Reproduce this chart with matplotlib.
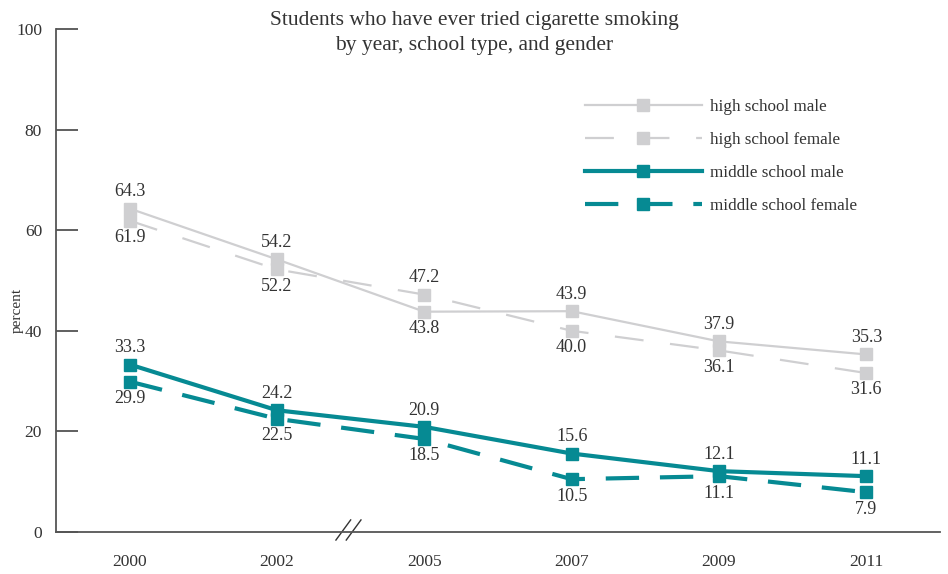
import numpy as np
import matplotlib.pyplot as plt

years = ["2000", "2002", "2005", "2007", "2009", "2011"]
hs_male = [64.3, 54.2, 43.8, 43.9, 37.9, 35.3]
hs_female = [61.9, 52.2, 47.2, 40.0, 36.1, 31.6]
ms_male = [33.3, 24.2, 20.9, 15.6, 12.1, 11.1]
ms_female = [29.9, 22.5, 18.5, 10.5, 11.1, 7.9]

GRAY = "#cfcfd1"
TEAL = "#068a93"
TXT = "#333333"

plt.rcParams["font.family"] = ["Liberation Serif", "DejaVu Serif"]

fig = plt.figure(figsize=(9.48, 5.74), dpi=100)
ax = fig.add_axes([56/948, 1 - 532/574, (940 - 56)/948, (532 - 29)/574])

x = np.arange(len(years))

ax.plot(x, hs_male, color=GRAY, lw=1.6, marker="s", ms=9, label="high school male")
ax.plot(x, hs_female, color=GRAY, lw=1.6, marker="s", ms=9, dashes=(13, 12),
        label="high school female")
ax.plot(x, ms_male, color=TEAL, lw=3, marker="s", ms=9, label="middle school male")
ax.plot(x, ms_female, color=TEAL, lw=3, marker="s", ms=9, dashes=(8, 5),
        label="middle school female")

# value labels: higher value above, lower below
for a, b in [(hs_male, hs_female), (ms_male, ms_female)]:
    for i in range(len(years)):
        hi, lo = max(a[i], b[i]), min(a[i], b[i])
        ax.annotate(f"{hi:.1f}", (x[i], hi), xytext=(0, 6), textcoords="offset points",
                    ha="center", va="bottom", fontsize=13, color=TXT)
        ax.annotate(f"{lo:.1f}", (x[i], lo), xytext=(0, -6), textcoords="offset points",
                    ha="center", va="top", fontsize=13, color=TXT)

ax.set_xlim(-0.5, 5.5)
ax.set_ylim(0, 100)
ax.set_yticks(np.arange(0, 101, 20))
ax.set_xticks(x)
ax.set_xticklabels(years)
ax.tick_params(axis="y", direction="in", length=16, width=1.2, color="#444444",
               labelsize=12.5, labelcolor=TXT, pad=10)
ax.tick_params(axis="x", length=0, labelsize=12.5, labelcolor=TXT, pad=16)
for s in ["top", "right"]:
    ax.spines[s].set_visible(False)
for s in ["left", "bottom"]:
    ax.spines[s].set_color("#555555")
    ax.spines[s].set_linewidth(1.3)

# axis break mark
for dx in [0, 0.07]:
    ax.plot([1.40 + dx, 1.50 + dx], [-1.6, 2.4], color="#333333", lw=1, clip_on=False)

fig.text(17/948, 1 - 310/574, "percent", rotation=90, ha="center", va="center",
         fontsize=11, color=TXT)
fig.text(474/948, 1 - 33/574, "Students who have ever tried cigarette smoking\nby year, school type, and gender",
         ha="center", va="center", fontsize=15.5, color=TXT, linespacing=1.4)

leg = ax.legend(loc="upper left", bbox_to_anchor=((570 - 56)/884, 1 - (84 - 29)/503),
                frameon=False, handlelength=6.8, numpoints=1, fontsize=12.3,
                labelspacing=0.98, handletextpad=0.5)
for t in leg.get_texts():
    t.set_color(TXT)

fig.savefig("out.png", dpi=100)
